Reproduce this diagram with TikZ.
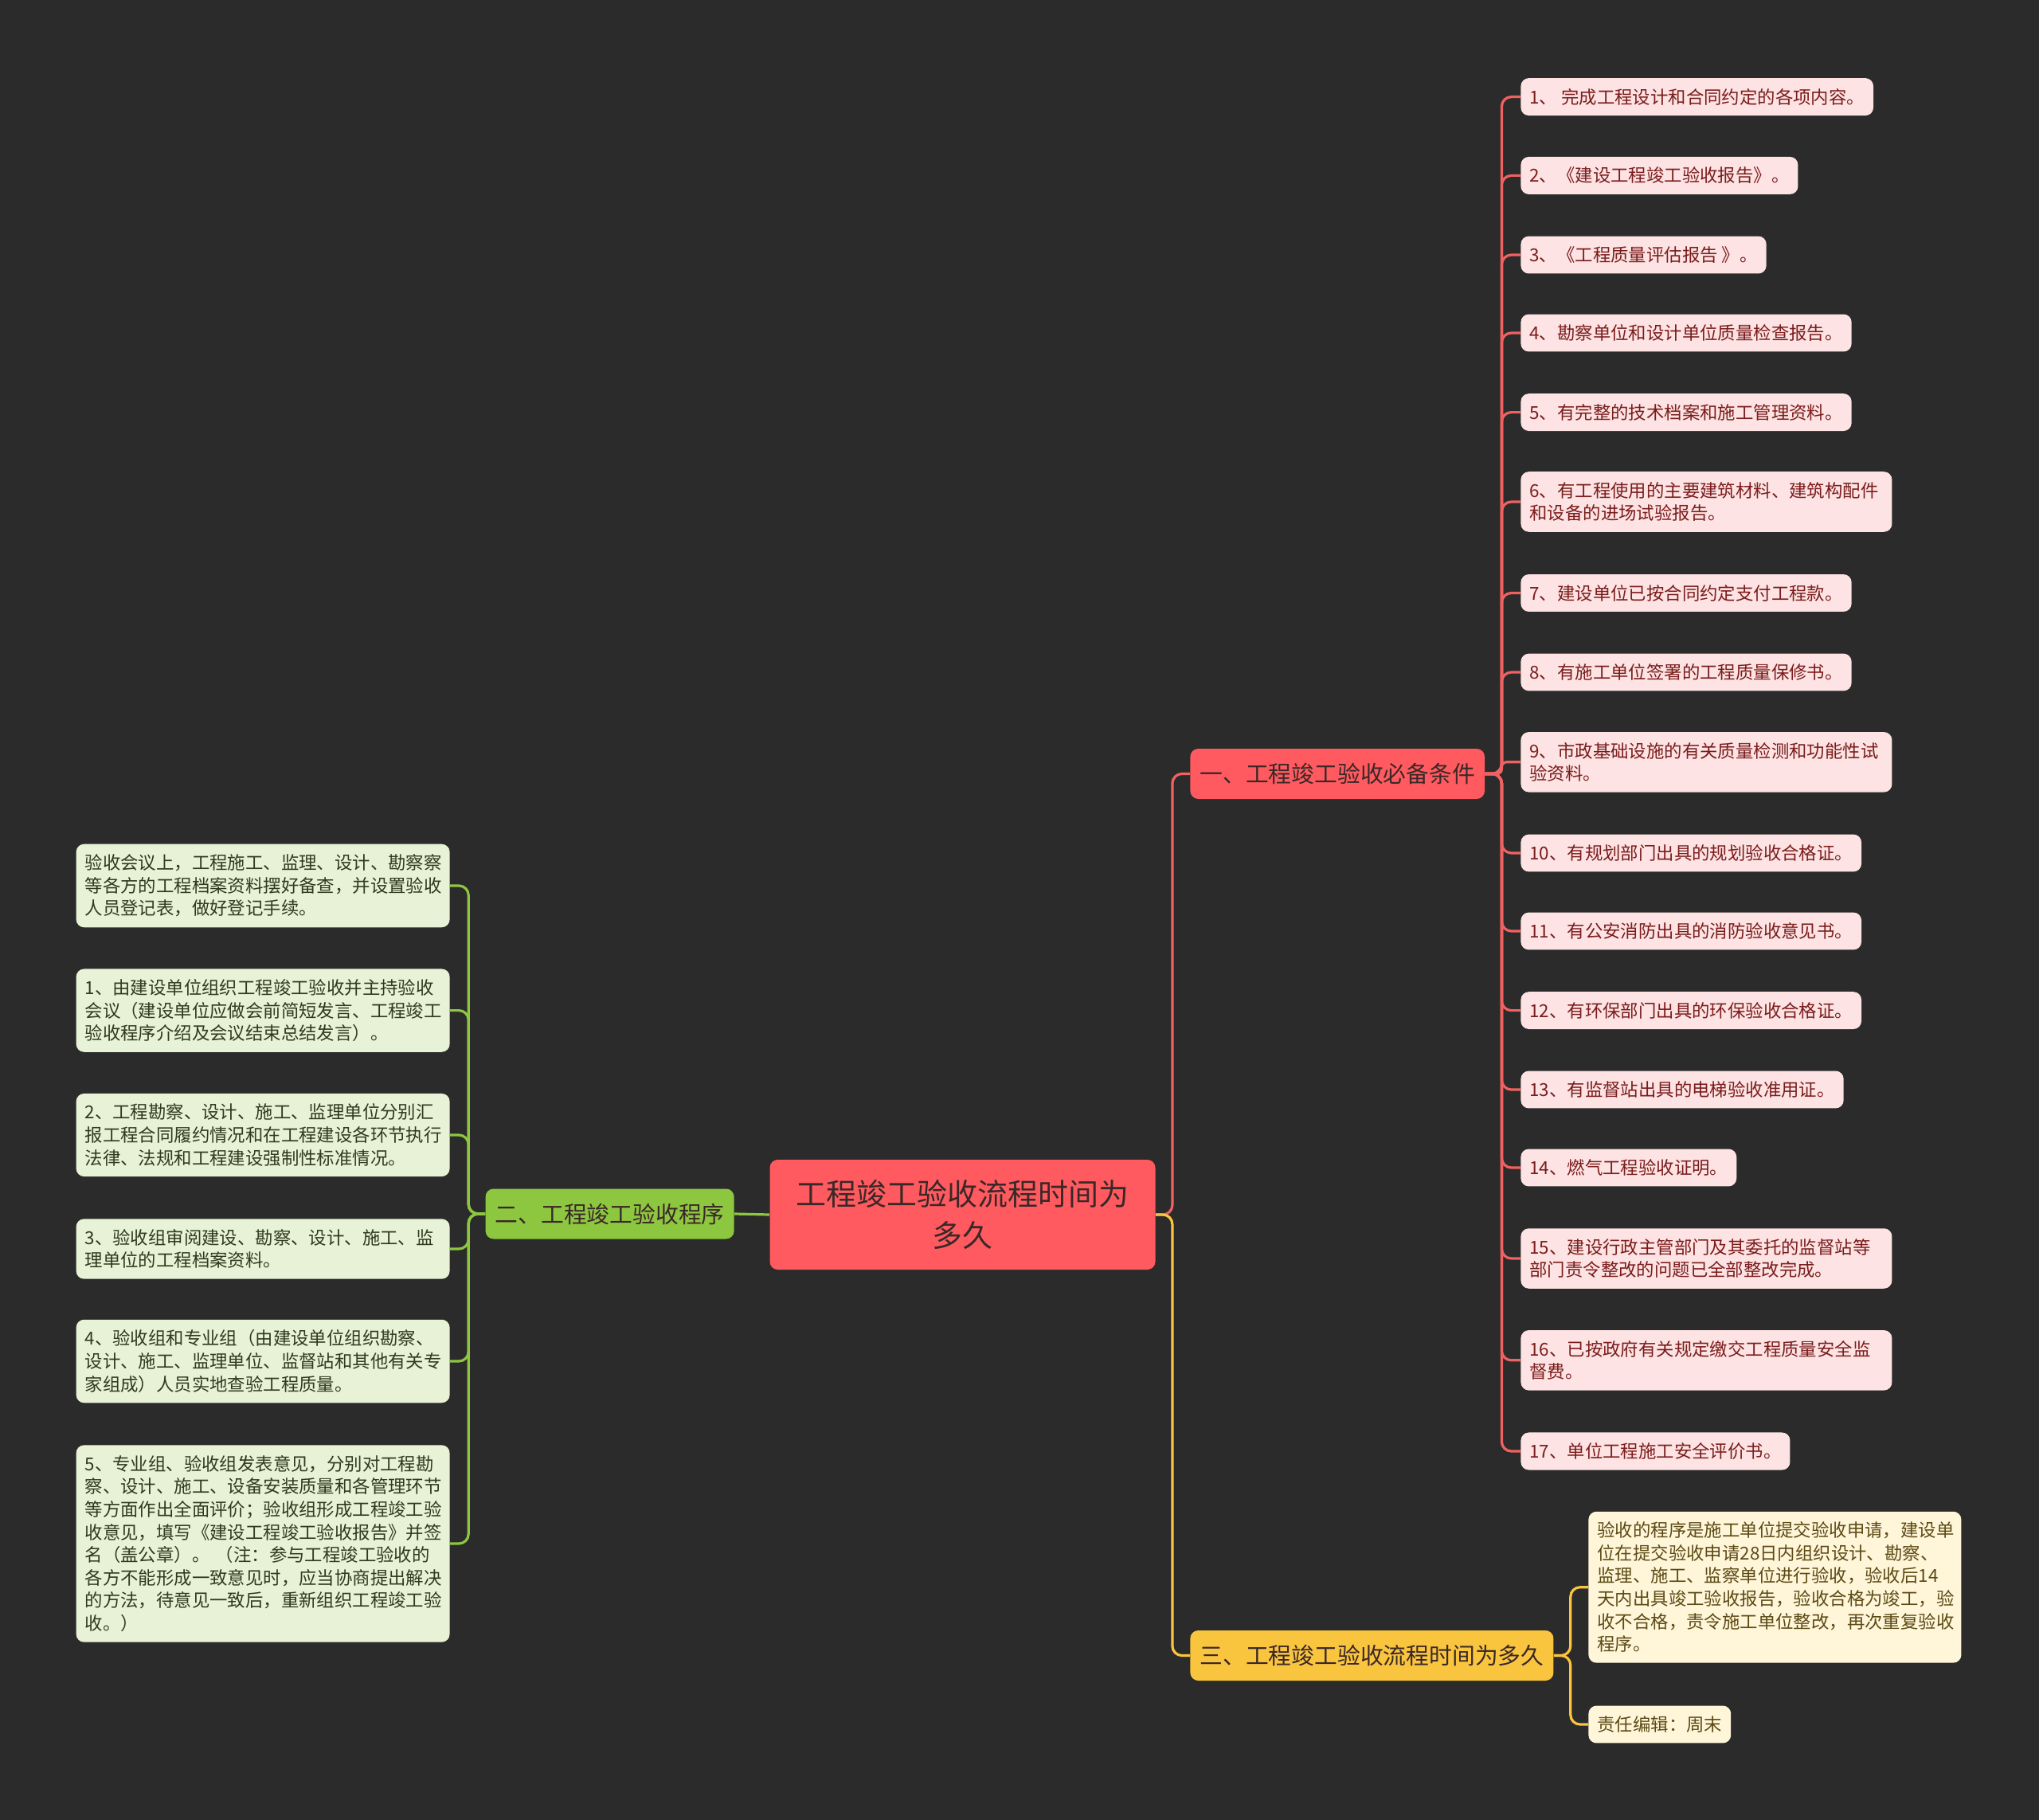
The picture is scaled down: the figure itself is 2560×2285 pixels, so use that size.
\documentclass[tikz,border=0pt]{standalone}
\usepackage{fontspec}
\setmainfont{Noto Sans CJK SC}
\usepackage{xcolor}
\definecolor{BgDark}{HTML}{2B2B2B}
\definecolor{RootRed}{HTML}{FF5A5F}
\definecolor{LineRed}{HTML}{F06262}
\definecolor{LeafPink}{HTML}{FDE3E3}
\definecolor{PinkText}{HTML}{7B1C1C}
\definecolor{BranchGreen}{HTML}{8DC63F}
\definecolor{LeafGreen}{HTML}{E7F2D6}
\definecolor{GreenText}{HTML}{2E3B1F}
\definecolor{BranchYellow}{HTML}{FAC53E}
\definecolor{LeafYellow}{HTML}{FFF6D9}
\definecolor{YellowText}{HTML}{5C4A15}
\definecolor{DarkText}{HTML}{3A2828}

\begin{document}
\begin{tikzpicture}[x=0.5pt,y=-0.5pt,
  leaf/.style={rounded corners=5pt,inner xsep=5.5pt,inner ysep=6.5pt,align=left,font=\fontsize{11.2}{14.3}\selectfont},
  pleaf/.style={leaf,fill=LeafPink,text=PinkText,anchor=west},
  pwide/.style={text width=222pt},
  gleaf/.style={leaf,fill=LeafGreen,text=GreenText,anchor=east,text width=223.5pt},
  yleaf/.style={leaf,fill=LeafYellow,text=YellowText,anchor=west},
  branch/.style={rounded corners=5pt,inner xsep=6pt,minimum height=31.5pt,font=\fontsize{14.4}{17}\selectfont,text=DarkText},
  redline/.style={draw=LineRed,line width=1.6pt,rounded corners=6pt},
  greenline/.style={draw=BranchGreen,line width=1.6pt,rounded corners=6pt},
  yellowline/.style={draw=BranchYellow,line width=1.6pt,rounded corners=6pt}]
  \fill[BgDark] (0,0) rectangle (2560,2285);

  % centre and main branches
  \node[fill=RootRed,rounded corners=5pt,minimum width=242pt,minimum height=69pt,align=center,text=DarkText,font=\fontsize{19}{26}\selectfont] (root) at (1208.5,1525) {工程竣工验收流程时间为\\多久};
  \node[branch,fill=RootRed,anchor=west] (b1) at (1494,971.5) {一、工程竣工验收必备条件};
  \node[branch,fill=BranchGreen,anchor=east] (b2) at (922,1524) {二、工程竣工验收程序};
  \node[branch,fill=BranchYellow,anchor=west] (b3) at (1494,2078.5) {三、工程竣工验收流程时间为多久};

  % conditions
  \node[pleaf] (p1) at (1909,121.6) {1、 完成工程设计和合同约定的各项内容。};
  \node[pleaf] (p2) at (1909,220.4) {2、《建设工程竣工验收报告》。};
  \node[pleaf] (p3) at (1909,320) {3、《工程质量评估报告 》。};
  \node[pleaf] (p4) at (1909,418) {4、勘察单位和设计单位质量检查报告。};
  \node[pleaf] (p5) at (1909,517.6) {5、有完整的技术档案和施工管理资料。};
  \node[pleaf,pwide] (p6) at (1909,630) {6、有工程使用的主要建筑材料、建筑构配件\\和设备的进场试验报告。};
  \node[pleaf] (p7) at (1909,744.5) {7、建设单位已按合同约定支付工程款。};
  \node[pleaf] (p8) at (1909,844) {8、有施工单位签署的工程质量保修书。};
  \node[pleaf,pwide] (p9) at (1909,956.8) {9、市政基础设施的有关质量检测和功能性试\\验资料。};
  \node[pleaf] (p10) at (1909,1071) {10、有规划部门出具的规划验收合格证。};
  \node[pleaf] (p11) at (1909,1169) {11、有公安消防出具的消防验收意见书。};
  \node[pleaf] (p12) at (1909,1268.6) {12、有环保部门出具的环保验收合格证。};
  \node[pleaf] (p13) at (1909,1368) {13、有监督站出具的电梯验收准用证。};
  \node[pleaf] (p14) at (1909,1466) {14、燃气工程验收证明。};
  \node[pleaf,pwide] (p15) at (1909,1580) {15、建设行政主管部门及其委托的监督站等\\部门责令整改的问题已全部整改完成。};
  \node[pleaf,pwide] (p16) at (1909,1707.8) {16、已按政府有关规定缴交工程质量安全监\\督费。};
  \node[pleaf] (p17) at (1909,1822) {17、单位工程施工安全评价书。};

  % procedure
  \node[gleaf] (g0) at (565,1112) {验收会议上，工程施工、监理、设计、勘察察\\等各方的工程档案资料摆好备查，并设置验收\\人员登记表，做好登记手续。};
  \node[gleaf] (g1) at (565,1268.6) {1、由建设单位组织工程竣工验收并主持验收\\会议（建设单位应做会前简短发言、工程竣工\\验收程序介绍及会议结束总结发言）。};
  \node[gleaf] (g2) at (565,1425) {2、工程勘察、设计、施工、监理单位分别汇\\报工程合同履约情况和在工程建设各环节执行\\法律、法规和工程建设强制性标准情况。};
  \node[gleaf] (g3) at (565,1568) {3、验收组审阅建设、勘察、设计、施工、监\\理单位的工程档案资料。};
  \node[gleaf] (g4) at (565,1709) {4、验收组和专业组（由建设单位组织勘察、\\设计、施工、监理单位、监督站和其他有关专\\家组成）人员实地查验工程质量。};
  \node[gleaf] (g5) at (565,1938) {5、专业组、验收组发表意见，分别对工程勘\\察、设计、施工、设备安装质量和各管理环节\\等方面作出全面评价；验收组形成工程竣工验\\收意见，填写《建设工程竣工验收报告》并签\\名（盖公章）。 （注：参与工程竣工验收的\\各方不能形成一致意见时，应当协商提出解决\\的方法，待意见一致后，重新组织工程竣工验\\收。）};

  % time
  \node[yleaf,text width=223pt] (y1) at (1994,1992.7) {验收的程序是施工单位提交验收申请，建设单\\位在提交验收申请28日内组织设计、勘察、\\监理、施工、监察单位进行验收，验收后14\\天内出具竣工验收报告，验收合格为竣工，验\\收不合格，责令施工单位整改，再次重复验收\\程序。};
  \node[yleaf] (y2) at (1994,2165) {责任编辑：周末};

  % connectors
  \draw[redline] (root.east) -- ++(21,0) |- (b1.west);
  \draw[yellowline] (root.east) -- ++(21,0) |- (b3.west);
  \draw[greenline] (root.west) -- (b2.east);
  \foreach \x in {1,2,3,4,5,6,7,8,10,11,12,13,14,15,16,17}{\draw[redline] (b1.east) -- ++(21,0) |- (p\x.west);}
  \draw[redline,rounded corners=3pt] (b1.east) -- ++(21,0) |- (p9.west);
  \foreach \x in {0,...,5}{\draw[greenline] (b2.west) -- ++(-21,0) |- (g\x.east);}
  \foreach \x in {1,2}{\draw[yellowline] (b3.east) -- ++(21,0) |- (y\x.west);}
\end{tikzpicture}
\end{document}
